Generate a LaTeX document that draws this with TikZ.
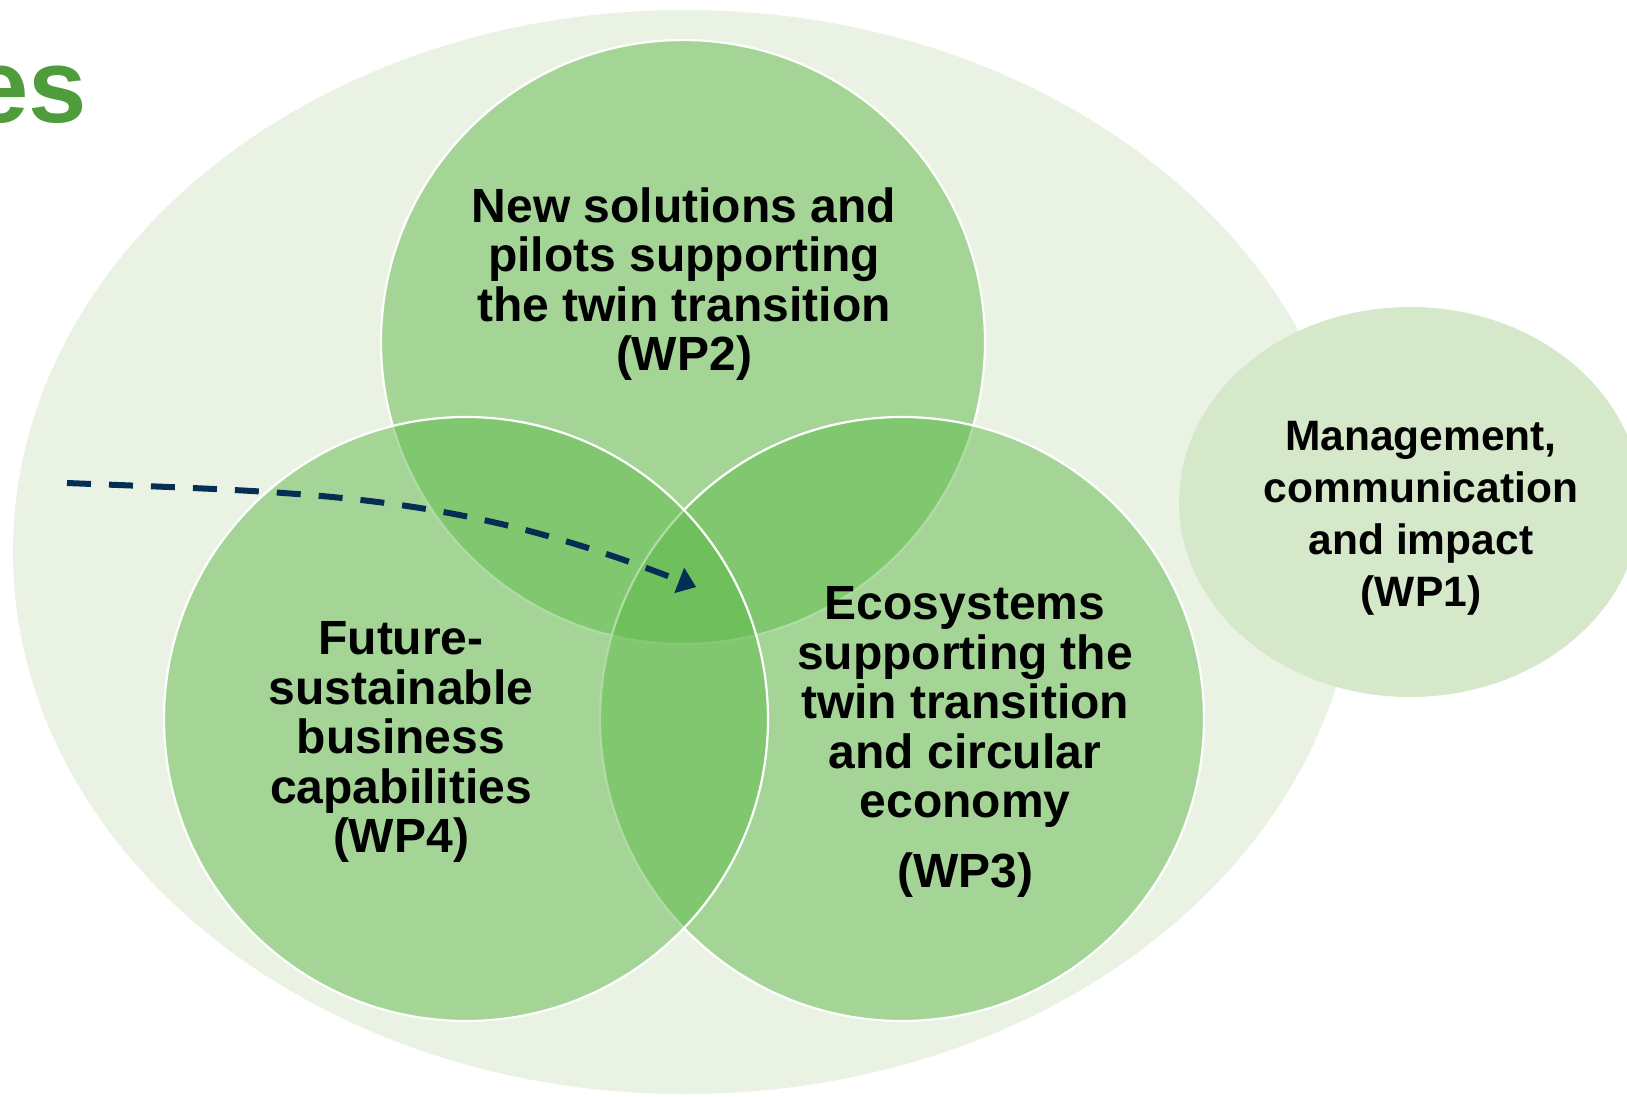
\documentclass[tikz,border=0pt]{standalone}
\usepackage{fontspec}
\setmainfont{Liberation Sans}
\usetikzlibrary{arrows.meta}

\definecolor{outergreen}{RGB}{234,242,227}
\definecolor{managegreen}{RGB}{213,232,202}
\definecolor{wpgreen}{RGB}{95,186,74}
\definecolor{titlegreen}{RGB}{79,157,58}
\definecolor{arrowblue}{RGB}{4,46,84}
\def \circleradius {302}
\def \bigfont {\bfseries\fontsize{48}{49.5}\selectfont}
\def \smallfont {\bfseries\fontsize{42.5}{52}\selectfont}

\tikzset{
  wpcircle/.style={fill=wpgreen, fill opacity=0.5, draw=white, line width=2.2pt},
  wptext/.style={inner sep=0pt, align=center, font=\bigfont},
  wponetext/.style={inner sep=0pt, align=center, font=\smallfont},
  titletext/.style={inner sep=0pt, text=titlegreen, font=\bfseries\fontsize{105}{110}\selectfont},
  flowarrow/.style={draw=arrowblue, line width=6pt, dash pattern=on 24pt off 18pt,
    -{Triangle[length=18pt, width=27pt, line width=1pt]}}
}

\begin{document}
\begin{tikzpicture}[x=1pt, y=-1pt]
\useasboundingbox (0,0) rectangle (1627,1096);
\clip (0,0) rectangle (1627,1096);
% Draw the outside ellipse
\fill[outergreen] (685,552) ellipse[x radius=672, y radius=542];
% Draw the management ellipse
\fill[managegreen] (1410,502) ellipse[x radius=231, y radius=195];
% Draw the three work package circles
\foreach \cx/\cy in {683/342, 902/719, 466/719}
{
\draw[wpcircle] (\cx,\cy) circle[radius=\circleradius];
}
% Draw the texts
\node[titletext, anchor=base east] (title) at (87,122) {es};
\node[wptext] (wptwo) at (684,284) {New solutions and\\pilots supporting\\the twin transition\\(WP2)};
\node[wptext] (wpfour) at (401,742) {Future-\\sustainable\\business\\capabilities\\(WP4)};
\node[wptext] (wpthree) at (965,742) {Ecosystems\\supporting the\\twin transition\\and circular\\economy\\[20.5pt](WP3)};
\node[wponetext] (wpone) at (1421,518) {Management,\\communication\\and impact\\(WP1)};
% Draw the dashed arrow
\coordinate (arrowstart) at (67,483);
\coordinate (arrowtip) at (696,587);
\draw[flowarrow] (arrowstart) .. controls (317,493) and (456,493) .. (arrowtip);
\end{tikzpicture}
\end{document}
